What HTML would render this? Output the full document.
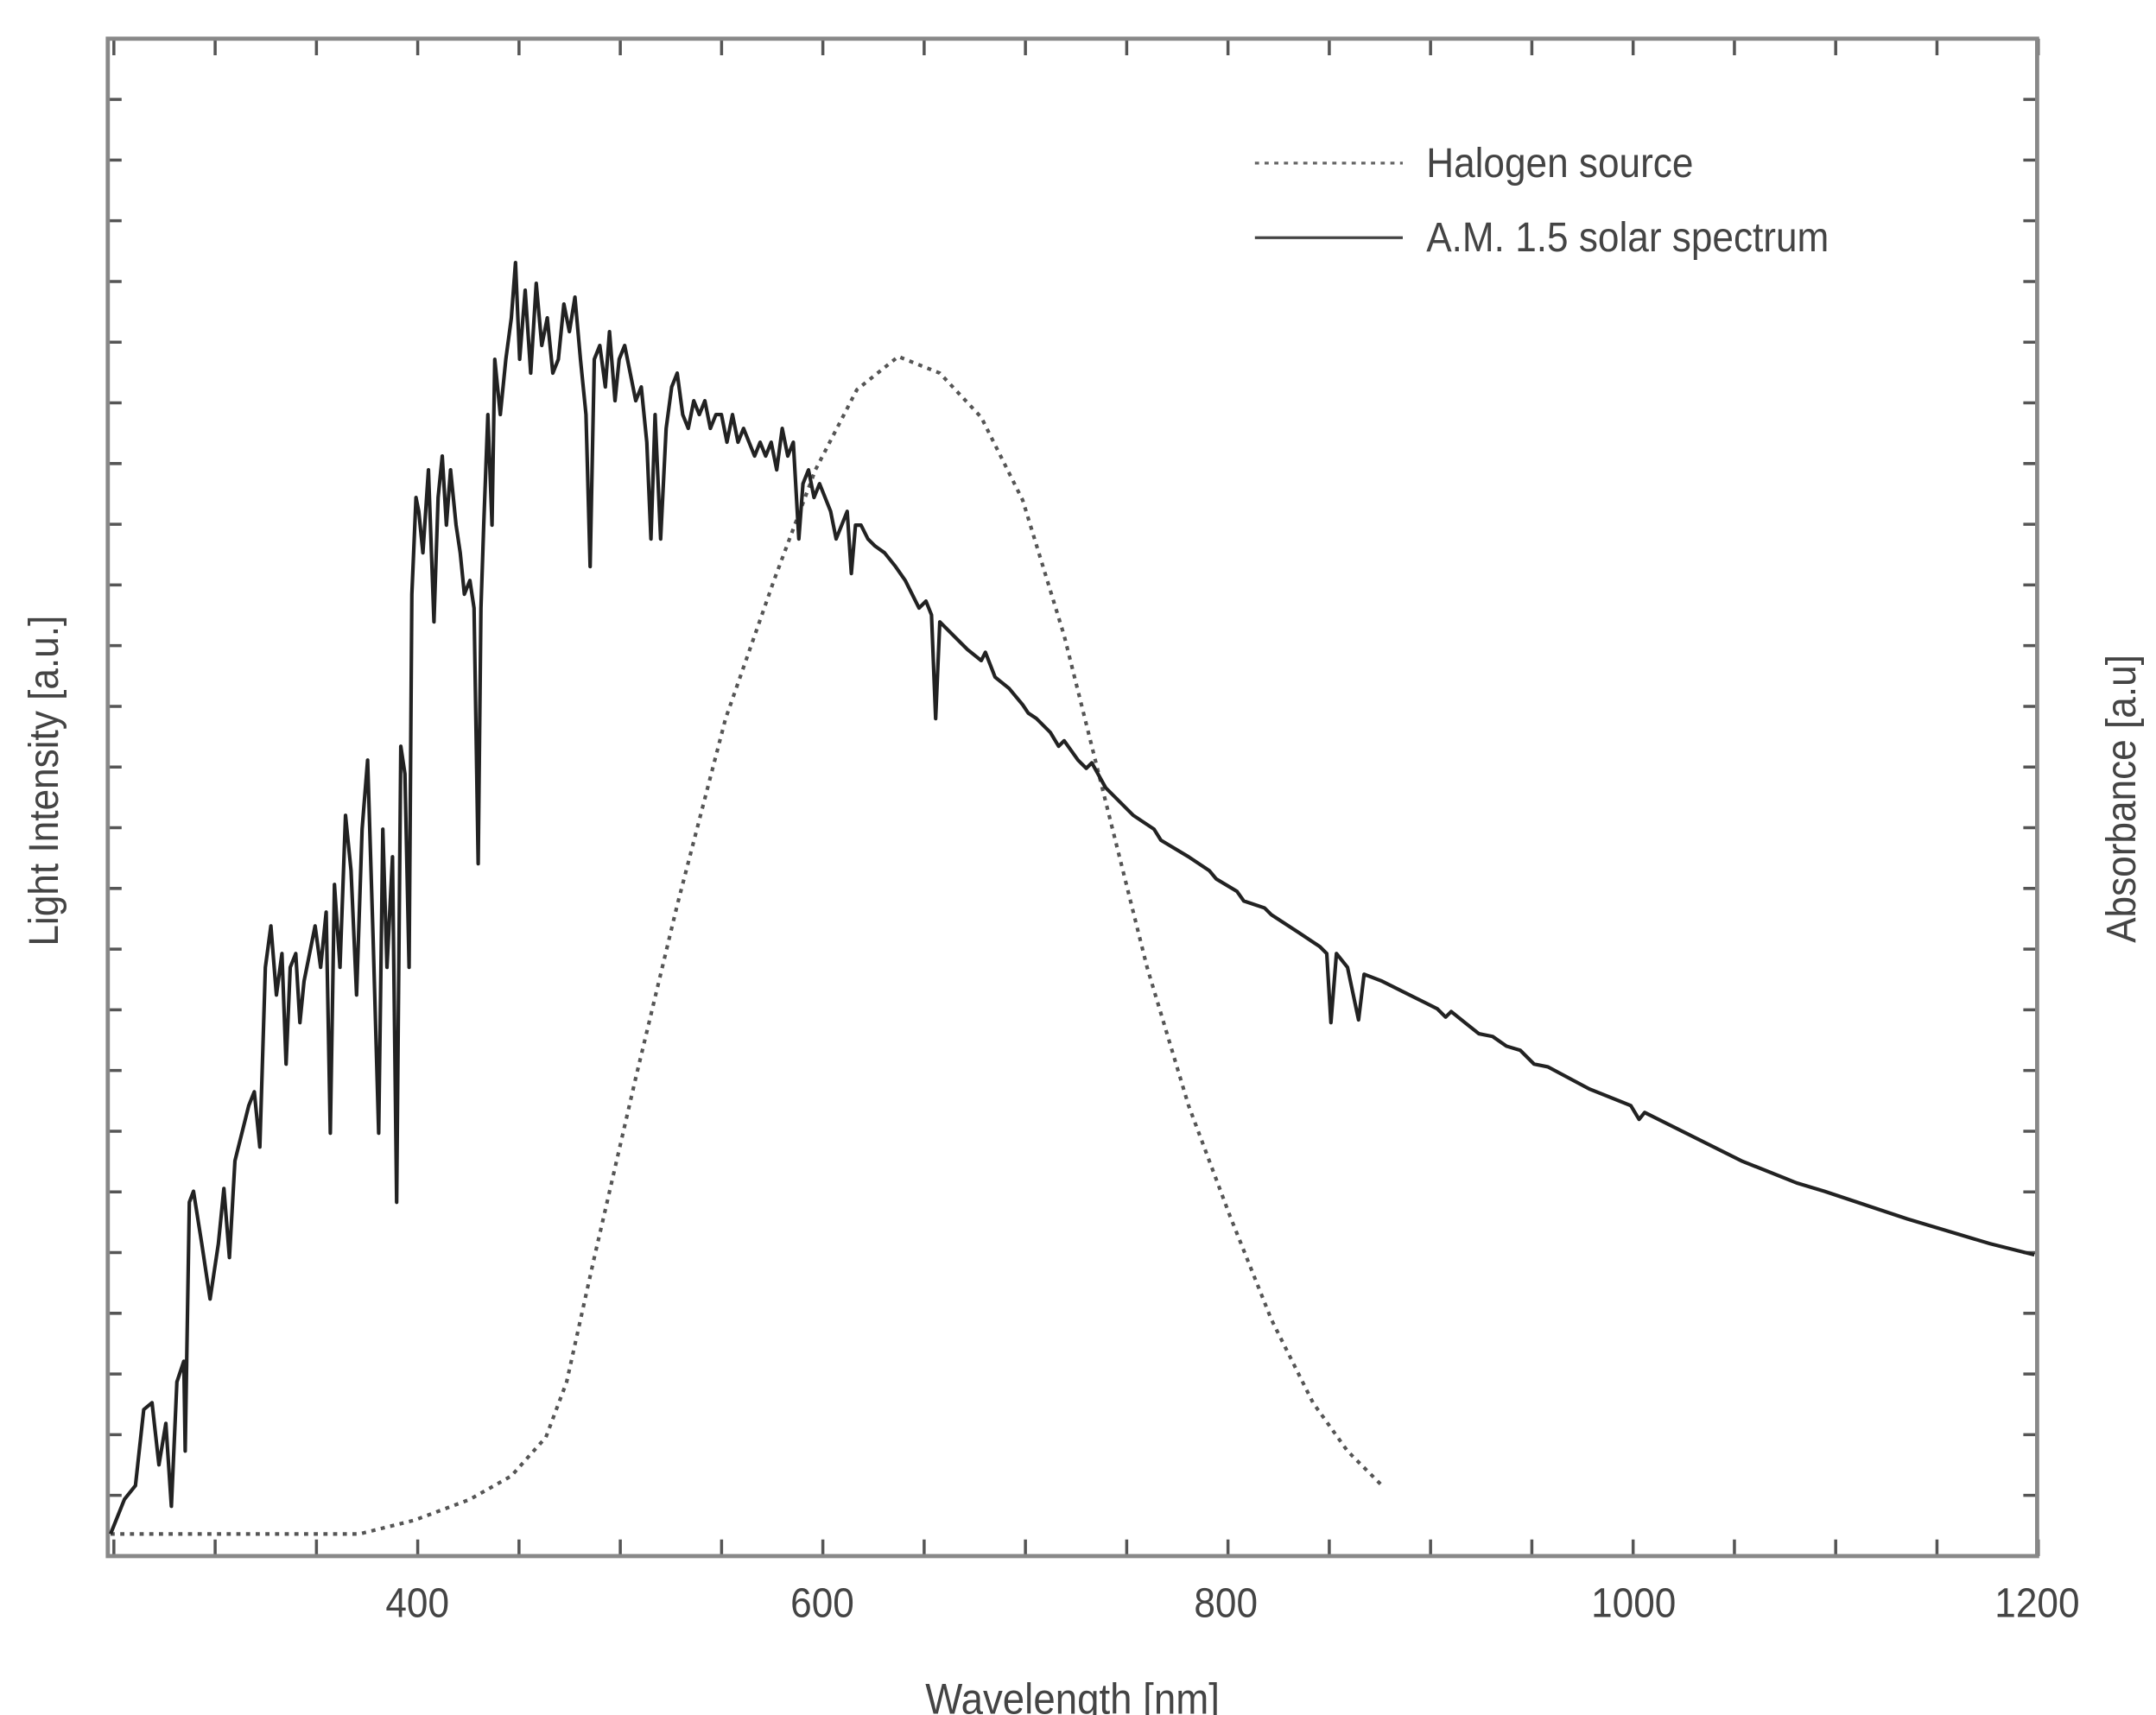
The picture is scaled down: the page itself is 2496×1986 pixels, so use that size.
<!DOCTYPE html>
<html><head><meta charset="utf-8"><style>
html,body{margin:0;padding:0;background:#fff;}
svg{display:block;}
text{font-family:"Liberation Sans",sans-serif;fill:#444;}
</style></head><body>
<svg width="2496" height="1986" viewBox="0 0 1560 1241" preserveAspectRatio="none" xmlns="http://www.w3.org/2000/svg">
<rect width="1560" height="1241" fill="#fff"/>
<g id="ticks" stroke="#555" stroke-width="2.2"></g>
<rect x="78" y="28" width="1396" height="1098" fill="none" stroke="#888" stroke-width="3"/>
<g font-size="30" text-anchor="middle">
<text x="302" y="1170" transform="translate(302,0) scale(0.92,1) translate(-302,0)">400</text>
<text x="595" y="1170" transform="translate(595,0) scale(0.92,1) translate(-595,0)">600</text>
<text x="887" y="1170" transform="translate(887,0) scale(0.92,1) translate(-887,0)">800</text>
<text x="1182" y="1170" transform="translate(1182,0) scale(0.92,1) translate(-1182,0)">1000</text>
<text x="1474" y="1170" transform="translate(1474,0) scale(0.92,1) translate(-1474,0)">1200</text>
</g>
<text x="776" y="1240" font-size="31" text-anchor="middle" transform="translate(776,0) scale(0.92,1) translate(-776,0)">Wavelength [nm]</text>
<text transform="translate(42,565) rotate(-90) scale(0.92,1)" font-size="30" text-anchor="middle">Light Intensity [a.u.]</text>
<text transform="translate(1545,578) rotate(-90) scale(0.92,1)" font-size="30" text-anchor="middle">Absorbance [a.u]</text>
<line x1="908" y1="118" x2="1015" y2="118" stroke="#666" stroke-width="2" stroke-dasharray="3,4"/>
<text x="1032" y="128" font-size="30" transform="translate(1032,0) scale(0.92,1) translate(-1032,0)">Halogen source</text>
<line x1="908" y1="172" x2="1015" y2="172" stroke="#444" stroke-width="2"/>
<text x="1032" y="182" font-size="30" transform="translate(1032,0) scale(0.92,1) translate(-1032,0)">A.M. 1.5 solar spectrum</text>
<polyline fill="none" stroke="#555" stroke-width="2.6" stroke-dasharray="3,4" points="80,1110 260,1110 300,1100 340,1085 370,1068 395,1040 410,1000 430,910 460,780 490,655 525,520 560,420 590,340 620,282 650,258 680,270 710,302 740,362 770,460 800,580 830,700 860,800 890,880 920,955 950,1015 975,1050 1000,1075"/>
<polyline fill="none" stroke="#222" stroke-width="2.6" stroke-linejoin="round" points="80,1110 90,1085 98,1075 104,1020 110,1015 115,1060 120,1030 124,1090 128,1000 133,985 134,1050 137,870 140,862 146,900 152,940 158,900 162,860 166,910 170,840 175,820 180,800 184,790 188,830 192,700 196,670 200,720 204,690 207,770 210,700 214,690 217,740 220,710 224,690 228,670 232,700 236,660 239,820 242,640 246,700 250,590 254,630 258,720 262,600 266,550 270,680 274,820 277,600 280,700 284,620 287,870 290,540 293,560 296,700 298,430 301,360 303,370 306,400 310,340 314,450 317,360 320,330 323,380 326,340 330,380 333,400 336,430 340,420 343,440 346,625 348,440 350,380 353,300 356,380 358,260 362,300 366,260 370,230 373,190 376,260 380,210 384,270 388,205 392,250 396,230 400,270 404,260 408,220 412,240 416,215 420,260 424,300 427,410 430,260 434,250 438,280 441,240 445,290 448,260 452,250 456,270 460,290 464,280 468,320 471,390 474,300 478,390 482,310 486,280 490,270 494,300 498,310 502,290 506,300 510,290 514,310 518,300 522,300 526,320 530,300 534,320 538,310 542,320 546,330 550,320 554,330 558,320 562,340 566,310 570,330 574,320 578,390 581,350 585,340 589,360 593,350 597,360 601,370 605,390 609,380 613,370 616,415 619,380 623,380 628,390 633,395 640,400 648,410 655,420 660,430 665,440 670,435 674,445 677,520 680,450 690,460 700,470 710,478 713,472 720,490 730,498 740,510 744,516 750,520 760,530 766,540 770,536 780,550 786,556 790,552 800,570 820,590 835,600 840,608 860,620 875,630 880,636 895,645 900,652 915,657 920,662 940,675 955,685 960,690 963,740 967,690 975,700 983,738 987,705 1000,710 1020,720 1040,730 1046,736 1050,732 1060,740 1070,748 1080,750 1090,757 1100,760 1110,770 1120,772 1150,788 1180,800 1186,810 1190,805 1200,810 1230,825 1260,840 1290,852 1300,856 1320,862 1350,872 1380,882 1410,891 1440,900 1472,908"/>
</svg>
<script>
(function(){
var g=document.getElementById('ticks'),s='';
function L(a,b,c,d){s+='<line x1="'+a+'" y1="'+b+'" x2="'+c+'" y2="'+d+'"/>';}
for(var nm=250;nm<=1200;nm+=50){var x=78+(nm-247)*1.4657;L(x,1126,x,1114);L(x,28,x,40);}
for(var i=1;i<25;i++){var y=1126-i*43.92;L(78,y,88,y);L(1474,y,1464,y);}
g.innerHTML=s;
})();
</script>
</body></html>
